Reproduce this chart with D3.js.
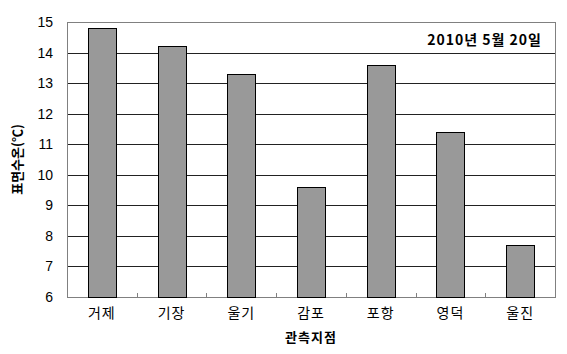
<!DOCTYPE html>
<html>
<head>
<meta charset="utf-8">
<script src="https://cdn.jsdelivr.net/npm/d3@7"></script>
<style>
body { margin: 0; background: #fff; }
text { font-family: "Liberation Sans", Arial, "Noto Sans CJK KR", sans-serif; }
</style>
</head>
<body>
<div class="chart"></div>
<script>
// data
let stations = ['거제', '기장', '울기', '감포', '포항', '영덕', '울진'];
let temps = [14.8, 14.2, 13.3, 9.6, 13.6, 11.4, 7.7];
let yTicks = [6, 7, 8, 9, 10, 11, 12, 13, 14, 15];

let width = 567, height = 354;
let margin = {top: 22, right: 12, bottom: 57, left: 67};

let svg = d3.select('.chart').append('svg')
		.attr('width', width)
		.attr('height', height);

let x = d3.scaleBand()
		.domain(stations)
		.range([margin.left, width - margin.right])
		.paddingInner(0.6)
		.paddingOuter(0.3);

let y = d3.scaleLinear()
		.domain([6, 15])
		.range([height - margin.bottom, margin.top]);

/////// GRID ///////////////////////////////////////

svg.append('g')
	.selectAll('line')
	.data(yTicks.slice(1, -1))
	.join('line')
		.attr('x1', margin.left)
		.attr('x2', width - margin.right)
		.attr('y1', d => Math.round(y(d)) + 0.5)
		.attr('y2', d => Math.round(y(d)) + 0.5)
		.attr('stroke', '#222')
		.attr('stroke-width', 1);

// plot border
svg.append('rect')
	.attr('x', margin.left + 0.5)
	.attr('y', margin.top + 0.5)
	.attr('width', width - margin.left - margin.right)
	.attr('height', height - margin.top - margin.bottom)
	.attr('fill', 'none')
	.attr('stroke', '#808080');

/////// BARS ///////////////////////////////////////

svg.append('g')
	.selectAll('rect')
	.data(stations)
	.join('rect')
		.attr('x', (d) => Math.round(x(d)) + 0.5)
		.attr('y', (d, i) => Math.round(y(temps[i])) + 0.5)
		.attr('width', Math.round(x.bandwidth()))
		.attr('height', (d, i) => Math.round(y(6)) - Math.round(y(temps[i])))
		.attr('fill', '#999999')
		.attr('stroke', '#000')
		.attr('stroke-width', 1);

/////// AXES ///////////////////////////////////////

// small ticks between categories, pointing up
let step = x.step();
let bounds = stations.slice(0, -1).map(d => x(d) + x.bandwidth() / 2 + step / 2);
svg.append('g')
	.selectAll('line')
	.data(bounds)
	.join('line')
		.attr('x1', d => Math.round(d) + 0.5)
		.attr('x2', d => Math.round(d) + 0.5)
		.attr('y1', y(6))
		.attr('y2', y(6) - 4)
		.attr('stroke', '#808080');

let yAxis = svg.append('g')
		.attr('transform', `translate(${margin.left},0)`)
		.call(d3.axisLeft(y).tickValues(yTicks).tickSize(0).tickPadding(14));
yAxis.select('.domain').remove();
yAxis.selectAll('text')
		.style('font-size', '14px')
		.attr('fill', '#000');

let xAxis = svg.append('g')
		.attr('transform', `translate(0,${y(6)})`)
		.call(d3.axisBottom(x).tickSize(0).tickPadding(11));
xAxis.select('.domain').remove();
xAxis.selectAll('text')
		.style('font-size', '14px')
		.style('letter-spacing', '1px')
		.style('font-family', '"Noto Sans CJK KR", sans-serif')
		.attr('fill', '#000');

/////// TITLES ///////////////////////////////////////

svg.append('text')
	.attr('x', (margin.left + width - margin.right) / 2)
	.attr('y', 342)
	.attr('text-anchor', 'middle')
	.style('font-family', '"Noto Sans CJK KR", sans-serif')
	.style('font-weight', 'bold')
	.style('font-size', '13px')
	.style('letter-spacing', '1px')
	.text('관측지점');

svg.append('text')
	.attr('transform', `translate(22,${(margin.top + height - margin.bottom) / 2}) rotate(-90)`)
	.attr('text-anchor', 'middle')
	.style('font-family', '"Noto Sans CJK KR", sans-serif')
	.style('font-weight', 'bold')
	.style('font-size', '13px')
	.text('표면수온(℃)');

svg.append('text')
	.attr('x', 542)
	.attr('y', 45)
	.attr('text-anchor', 'end')
	.style('font-family', '"Noto Sans CJK KR", sans-serif')
	.style('font-weight', 'bold')
	.style('font-size', '14px')
	.style('letter-spacing', '1px')
	.text('2010년 5월 20일');
</script>
</body>
</html>
